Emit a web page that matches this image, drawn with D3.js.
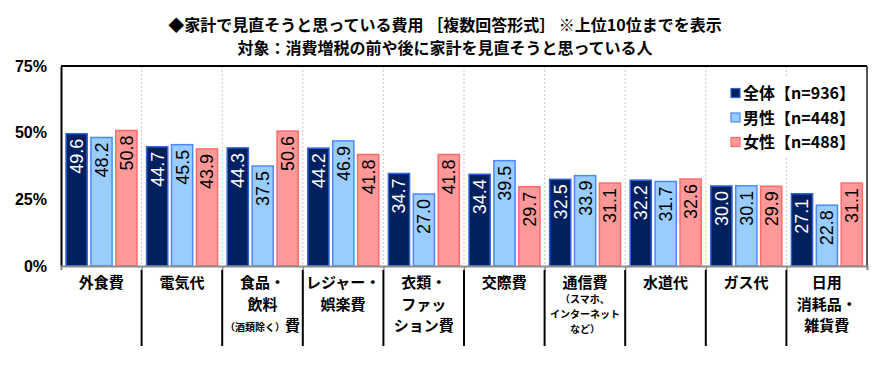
<!DOCTYPE html>
<html>
<head>
<meta charset="utf-8">
<script src="https://cdnjs.cloudflare.com/ajax/libs/d3/7.8.5/d3.min.js"></script>
<style>
  body { margin: 0; background: #fff; }
  svg { display: block; }
  .jp { font-family: "Noto Sans CJK JP", "Noto Sans", sans-serif; font-weight: bold; fill: #000; }
  .num { font-family: "Liberation Sans", Arial, sans-serif; }
</style>
</head>
<body>
<svg id="chart" width="889" height="368"></svg>
<script>
// categories, each label split into lines (s = small text)
const categories = ["外食費", "電気代", "食品・飲料（酒類除く）費", "レジャー・娯楽費", "衣類・ファッション費",
                    "交際費", "通信費（スマホ、インターネットなど）", "水道代", "ガス代", "日用消耗品・雑貨費"];
const catLines = [
  [[["外食費", "b"]]],
  [[["電気代", "b"]]],
  [[["食品・", "b"]], [["飲料", "b"]], [["（酒類除く）", "s"], ["費", "b"]]],
  [[["レジャー・", "b"]], [["娯楽費", "b"]]],
  [[["衣類・", "b"]], [["ファッ", "b"]], [["ション費", "b"]]],
  [[["交際費", "b"]]],
  [[["通信費", "b"]], [["（スマホ、", "s"]], [["インターネット", "s"]], [["など）", "s"]]],
  [[["水道代", "b"]]],
  [[["ガス代", "b"]]],
  [[["日用", "b"]], [["消耗品・", "b"]], [["雑貨費", "b"]]]
];
const seriesNames = ["全体【n=936】", "男性【n=448】", "女性【n=488】"];
const zentai = [49.6, 44.7, 44.3, 44.2, 34.7, 34.4, 32.5, 32.2, 30.0, 27.1];
const dansei = [48.2, 45.5, 37.5, 46.9, 27.0, 39.5, 33.9, 31.7, 30.1, 22.8];
const josei  = [50.8, 43.9, 50.6, 41.8, 41.8, 29.7, 31.1, 32.6, 29.9, 31.1];
const yTicks = [0, 25, 50, 75];
const titleLines = ["◆家計で見直そうと思っている費用 ［複数回答形式］ ※上位10位までを表示",
                    "対象：消費増税の前や後に家計を見直そうと思っている人"];

const fills   = ["#002060", "#99ccff", "#ff9999"];
const strokes = ["#2e64d8", "#4d88ff", "#ff6b6b"];
const labelColors = ["#fff", "#000", "#000"];
const allSeries = [zentai, dansei, josei];

const svg = d3.select("#chart");
const pLeft = 61, pRight = 867, pTop = 66, pBottom = 266;

const x0 = d3.scaleBand().domain(d3.range(categories.length)).range([pLeft, pRight]);
const x1 = d3.scaleBand().domain([0, 1, 2]).range([5, x0.bandwidth() - 4.6]).paddingInner(0.15);
const y = d3.scaleLinear().domain([0, 75]).range([pBottom, pTop]);

// title
svg.selectAll("text.title").data(titleLines).enter().append("text")
  .attr("class", "jp title")
  .attr("x", 445).attr("y", (d, i) => 31 + i * 23)
  .attr("text-anchor", "middle")
  .style("font-size", "16px")
  .text(d => d);

// vertical dotted gridlines
svg.append("g").selectAll("line").data(d3.range(1, categories.length)).enter().append("line")
  .attr("x1", d => x0(d)).attr("x2", d => x0(d))
  .attr("y1", pTop).attr("y2", pBottom)
  .attr("stroke", "#c8c8c8").attr("stroke-width", 1).attr("stroke-dasharray", "2,2");

// legend background (covers gridline)
svg.append("rect").attr("x", 722).attr("y", 76).attr("width", 138).attr("height", 82).attr("fill", "#fff");

// bars
const groups = svg.append("g").selectAll("g").data(categories).enter().append("g")
  .attr("transform", (d, i) => `translate(${x0(i)},0)`);

groups.each(function(d, i) {
  const g = d3.select(this);
  allSeries.forEach((s, k) => {
    g.append("rect")
      .attr("x", x1(k)).attr("y", y(s[i]))
      .attr("width", x1.bandwidth()).attr("height", pBottom - y(s[i]))
      .attr("fill", fills[k]).attr("stroke", strokes[k]).attr("stroke-width", 1.5);
    const cx = x1(k) + x1.bandwidth() / 2, ty = y(s[i]) + 5;
    g.append("text")
      .attr("class", "num")
      .attr("transform", `translate(${cx},${ty}) rotate(-90)`)
      .attr("text-anchor", "end")
      .attr("dy", "0.36em")
      .style("font-size", "18px")
      .attr("fill", labelColors[k])
      .text(s[i].toFixed(1));
  });
});

// frame: top & right
svg.append("line").attr("x1", pLeft).attr("x2", pRight).attr("y1", pTop).attr("y2", pTop)
  .attr("stroke", "#000").attr("stroke-width", 2);
svg.append("line").attr("x1", pRight).attr("x2", pRight).attr("y1", pTop).attr("y2", pBottom)
  .attr("stroke", "#222").attr("stroke-width", 1.5);

// y axis
const yAxis = svg.append("g").attr("transform", `translate(${pLeft},0)`)
  .call(d3.axisLeft(y).tickValues(yTicks).tickFormat(d => d + "%").tickSize(0).tickPadding(14));
yAxis.select(".domain").attr("stroke", "#000").attr("stroke-width", 2);
yAxis.selectAll("text").attr("class", "num").style("font-size", "16px").style("font-weight", "bold").attr("fill", "#000");

// x axis
const xAxis = svg.append("g").attr("transform", `translate(0,${pBottom})`)
  .call(d3.axisBottom(d3.scaleLinear().domain([0, 10]).range([pLeft, pRight]))
    .tickValues(d3.range(0, 11)).tickSize(4).tickFormat(""));
xAxis.select(".domain").attr("stroke", "#8c8c8c").attr("stroke-width", 2);
xAxis.selectAll(".tick line").attr("stroke", "#8c8c8c").attr("stroke-width", 1.5);

// category separators below axis
svg.append("g").selectAll("line").data(d3.range(1, categories.length)).enter().append("line")
  .attr("x1", d => x0(d)).attr("x2", d => x0(d))
  .attr("y1", 270).attr("y2", 346)
  .attr("stroke", "#000").attr("stroke-width", 2);

// category labels: one text per line
catLines.forEach((lines, i) => {
  const cx = x0(i) + x0.bandwidth() / 2;
  let yy = 288;
  lines.forEach((parts, j) => {
    const small = parts.every(p => p[1] === "s");
    if (j > 0) yy += small ? 15 : 21.5;
    const t = svg.append("text").attr("class", "jp").attr("text-anchor", "middle")
      .attr("x", cx).attr("y", yy);
    parts.forEach(p => {
      t.append("tspan").text(p[0]).style("font-size", p[1] === "s" ? "10px" : "15px");
    });
  });
});

// legend
const legend = svg.append("g").selectAll("g").data(seriesNames).enter().append("g")
  .attr("transform", (d, i) => `translate(731,${93 + i * 24.5})`);
legend.append("rect").attr("x", 0).attr("y", -4.5).attr("width", 9).attr("height", 9)
  .attr("fill", (d, i) => fills[i]).attr("stroke", (d, i) => strokes[i]).attr("stroke-width", 1.2);
legend.append("text").attr("class", "jp").attr("x", 12).attr("y", 6)
  .style("font-size", "16px").text(d => d);
</script>
</body>
</html>
